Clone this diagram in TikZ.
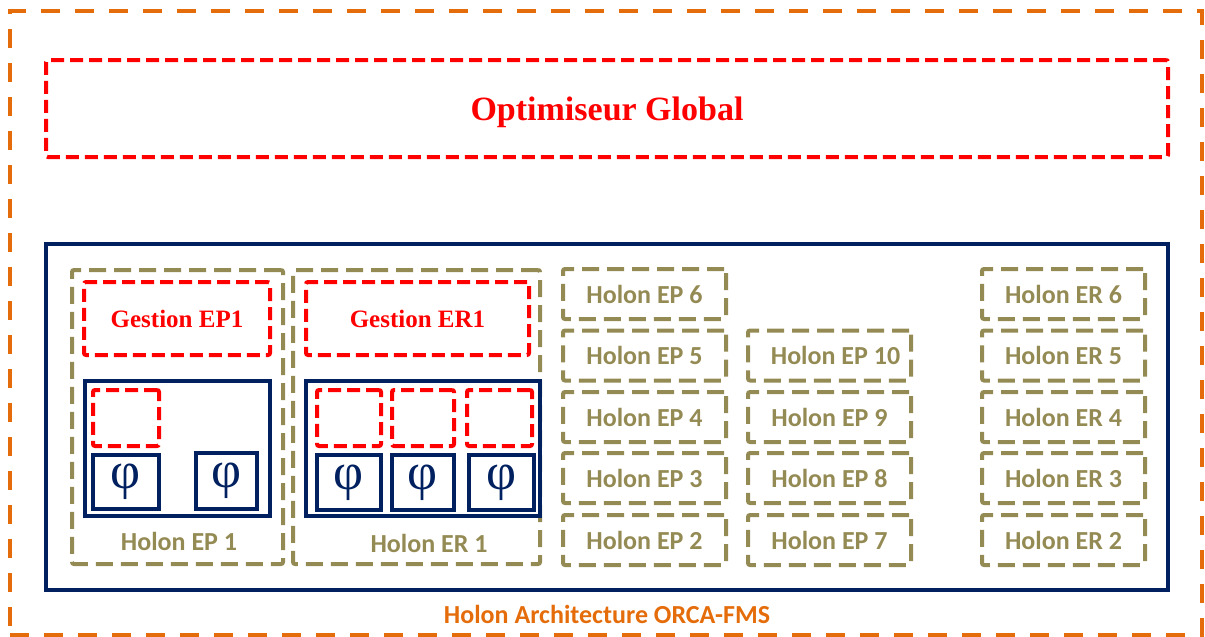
\documentclass[tikz,border=0pt]{standalone}
\usepackage{fontspec}
\newfontfamily\timesf{Liberation Serif}
\newfontfamily\calibri{Carlito}
\definecolor{orangeA}{HTML}{E46C0A}
\definecolor{redA}{HTML}{FF0000}
\definecolor{oliveA}{HTML}{948A54}
\definecolor{navyA}{HTML}{002060}
\tikzset{
  bx/.style 2 args={rectangle, inner sep=0pt, minimum width=#1, minimum height=#2},
  outerbox/.style={draw=orangeA, line width=3.5pt, dash pattern=on 19pt off 15pt},
  redbox/.style={draw=redA, line width=4pt, dash pattern=on 13pt off 6pt, rounded corners=2pt},
  olivebox/.style={draw=oliveA, line width=4pt, dash pattern=on 17pt off 8pt, rounded corners=2pt,
     text=oliveA, font=\calibri\bfseries\fontsize{26}{30}\selectfont},
  navybox/.style={draw=navyA, line width=4pt},
  phibox/.style={draw=navyA, line width=4pt, text=navyA, font=\timesf\fontsize{52}{54}\selectfont},
  redtitle/.style={text=redA, font=\timesf\bfseries\fontsize{25}{28}\selectfont},
  olivelabel/.style={text=oliveA, font=\calibri\bfseries\fontsize{26}{30}\selectfont},
}
\begin{document}
\begin{tikzpicture}[x=1pt,y=-1pt]
\useasboundingbox (0,0) rectangle (1205,637);
% outer architecture
\node[outerbox, bx={1192pt}{624pt}] (arch) at (606,323) {};
\node[text=orangeA, font=\calibri\bfseries\fontsize{26}{30}\selectfont] (archlabel) at (607,614) {Holon Architecture ORCA-FMS};
% optimiser
\node[redbox, bx={1122pt}{97pt}, text depth=0pt, text=redA, font=\timesf\bfseries\fontsize{34}{38}\selectfont] (optim) at (607,108.5) {Optimiseur Global};
% navy main
\node[navybox, bx={1122pt}{346pt}] (main) at (607,417) {};
% Holon EP 1
\node[olivebox, bx={211pt}{294pt}] (hep1) at (177.5,417) {};
\node[olivelabel] (hep1label) at (179,541) {Holon EP 1};
\node[redbox, bx={186pt}{73pt}, redtitle] (gep1) at (177,318.5) {Gestion EP1};
\node[navybox, bx={185pt}{135pt}] (nep1) at (177.5,448.5) {};
\node[redbox, bx={66pt}{56pt}] (rep1) at (126,418) {};
\node[phibox, bx={66pt}{54pt}] (phia) at (126,482) {φ};
\node[phibox, bx={61pt}{56pt}] (phib) at (226.5,481) {φ};
% Holon ER 1
\node[olivebox, bx={247pt}{294pt}] (her1) at (416.5,417) {};
\node[olivelabel] (her1label) at (429,543) {Holon ER 1};
\node[redbox, bx={223pt}{73pt}, redtitle] (ger1) at (417.5,318.5) {Gestion ER1};
\node[navybox, bx={234pt}{135pt}] (ner1) at (423,448.5) {};
\node[redbox, bx={64pt}{56pt}] (rer1) at (349,418) {};
\node[redbox, bx={62pt}{56pt}] (rer2) at (423,418) {};
\node[redbox, bx={65pt}{56pt}] (rer3) at (499.5,418) {};
\node[phibox, bx={64pt}{55pt}] (phic) at (349,482.5) {φ};
\node[phibox, bx={62pt}{55pt}] (phid) at (423,482.5) {φ};
\node[phibox, bx={65pt}{55pt}] (phie) at (501.5,482.5) {φ};
% Holon grid
\node[olivebox, bx={163pt}{50pt}] (ep6) at (644.5,294) {Holon EP 6};
\node[olivebox, bx={163pt}{50pt}] (ep5) at (644.5,355.5) {Holon EP 5};
\node[olivebox, bx={163pt}{50pt}] (ep4) at (644.5,417) {Holon EP 4};
\node[olivebox, bx={163pt}{50pt}] (ep3) at (644.5,478) {Holon EP 3};
\node[olivebox, bx={163pt}{50pt}] (ep2) at (644.5,540) {Holon EP 2};
\node[olivebox, bx={163pt}{50pt}] (ep10) at (829.5,355.5) {};
\node[olivelabel] (ep10label) at (835.5,355.5) {Holon EP 10};
\node[olivebox, bx={163pt}{50pt}] (ep9) at (829.5,417) {Holon EP 9};
\node[olivebox, bx={163pt}{50pt}] (ep8) at (829.5,478) {Holon EP 8};
\node[olivebox, bx={163pt}{50pt}] (ep7) at (829.5,540) {Holon EP 7};
\node[olivebox, bx={163pt}{50pt}] (er6) at (1063.5,294) {Holon ER 6};
\node[olivebox, bx={163pt}{50pt}] (er5) at (1063.5,355.5) {Holon ER 5};
\node[olivebox, bx={163pt}{50pt}] (er4) at (1063.5,417) {Holon ER 4};
\node[olivebox, bx={163pt}{50pt}] (er3) at (1063.5,478) {Holon ER 3};
\node[olivebox, bx={163pt}{50pt}] (er2) at (1063.5,540) {Holon ER 2};
\end{tikzpicture}
\end{document}
